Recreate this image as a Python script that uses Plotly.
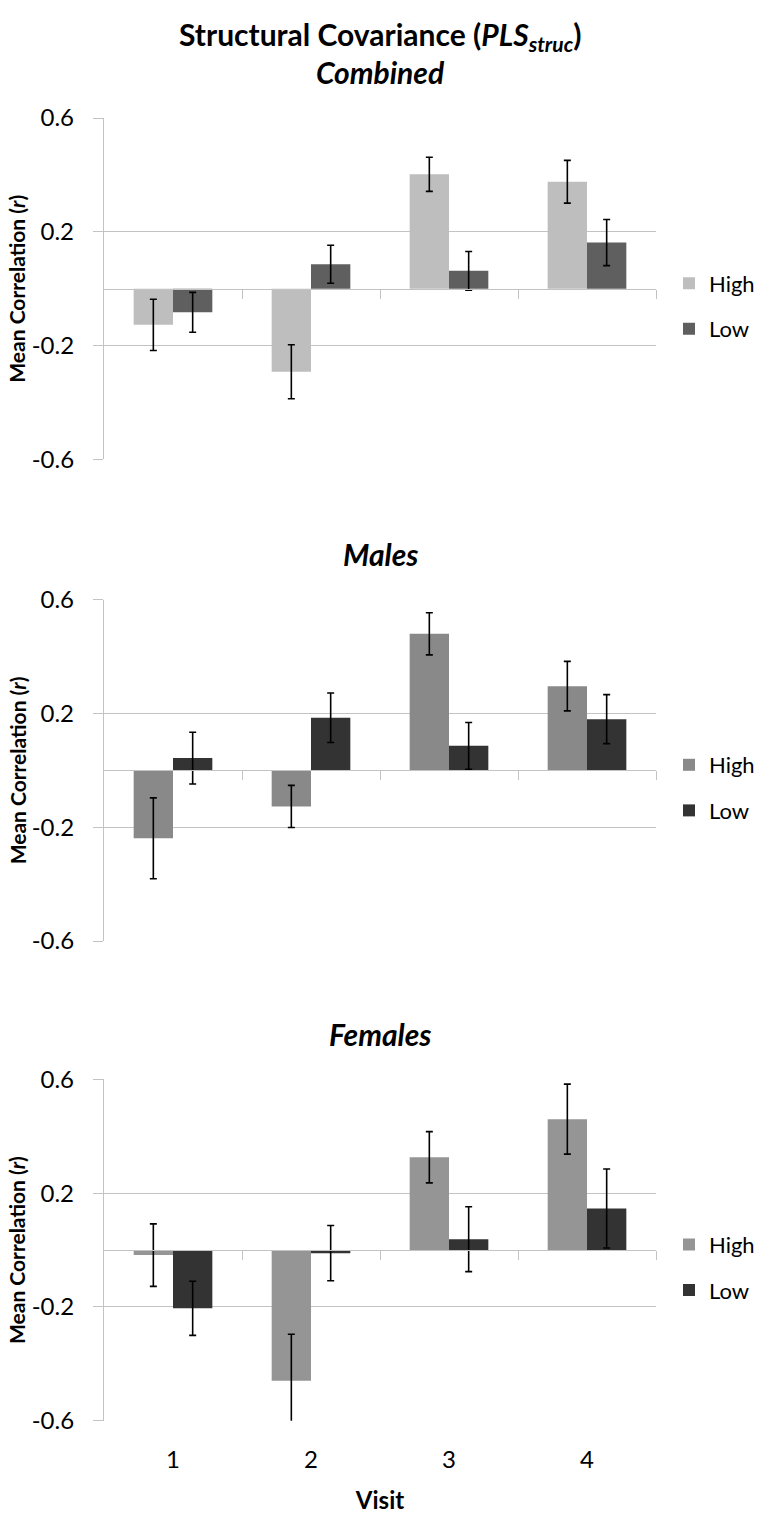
import plotly.graph_objects as go

# ---------------- data ----------------
visits = [1, 2, 3, 4]
visit_labels = ["1", "2", "3", "4"]
series_names = ["High", "Low"]
panel_titles = ["Combined", "Males", "Females"]

combined_high = [-0.127, -0.292, 0.402, 0.376]
combined_high_err = [0.090, 0.095, 0.060, 0.075]
combined_low = [-0.083, 0.086, 0.063, 0.162]
combined_low_err = [0.070, 0.067, 0.068, 0.081]

males_high = [-0.239, -0.127, 0.480, 0.296]
males_high_err = [0.142, 0.074, 0.074, 0.087]
males_low = [0.043, 0.185, 0.086, 0.180]
males_low_err = [0.091, 0.087, 0.082, 0.086]

females_high = [-0.018, -0.460, 0.326, 0.460]
females_high_err = [0.110, 0.164, 0.090, 0.123]
females_low = [-0.205, -0.011, 0.038, 0.146]
females_low_err = [0.095, 0.097, 0.114, 0.139]

y_ticks = [-0.6, -0.2, 0.2, 0.6]
y_tick_labels = ["-0.6", "-0.2", "0.2", "0.6"]

# ---------------- style ----------------
FONT = "Lato"
W, H = 760, 1520
GRID = "#c3c3c3"
panel_colors = [("#bebebe", "#5f5f5f"), ("#898989", "#333333"), ("#959595", "#333333")]
panel_px = [(104, 452), (595, 943), (1084, 1432)]  # top / bottom pixel of each plot
x_dom = [104 / W, 656 / W]

panels = [
    (combined_high, combined_high_err, combined_low, combined_low_err),
    (males_high, males_high_err, males_low, males_low_err),
    (females_high, females_high_err, females_low, females_low_err),
]

fig = go.Figure()

for i, (hi, hi_e, lo, lo_e) in enumerate(panels):
    n = i + 1
    xa = "x" if n == 1 else f"x{n}"
    ya = "y" if n == 1 else f"y{n}"
    leg = "legend" if n == 1 else f"legend{n}"
    c_hi, c_lo = panel_colors[i]
    for name, vals, errs, col in [(series_names[0], hi, hi_e, c_hi), (series_names[1], lo, lo_e, c_lo)]:
        fig.add_trace(go.Bar(
            x=visits, y=vals, name=name,
            marker=dict(color=col, line=dict(width=0)),
            error_y=dict(type="data", array=errs, visible=True, color="black", thickness=1.6, width=3.5),
            xaxis=xa, yaxis=ya, legend=leg, legendgroup=f"{name}{n}",
        ))
    # empty helper trace so the zero-line axis (with category boundary ticks) is drawn
    fig.add_trace(go.Scatter(
        x=visits, y=[None] * len(visits), mode="lines", showlegend=False,
        hoverinfo="skip", xaxis=f"x{3 + n}", yaxis=ya,
    ))

layout = dict(
    width=W, height=H,
    margin=dict(l=0, r=0, t=0, b=0),
    paper_bgcolor="white", plot_bgcolor="white",
    barmode="group", bargap=0.43, bargroupgap=0,
    font=dict(family=FONT, color="black", size=22),
    showlegend=True,
)

annotations = []
for i in range(3):
    n = i + 1
    top, bot = panel_px[i]
    y0 = 1 - bot / H
    y1 = 1 - top / H
    sfx = "" if n == 1 else str(n)
    layout[f"yaxis{sfx}"] = dict(
        domain=[y0, y1], range=[-0.6, 0.6], anchor=f"x{sfx}",
        tickvals=y_ticks, ticktext=y_tick_labels,
        showgrid=True, gridcolor=GRID, gridwidth=1.3,
        showline=True, linecolor=GRID, linewidth=1.3,
        ticks="outside", ticklen=10, tickcolor=GRID, tickwidth=1.3,
        zeroline=False, tickfont=dict(size=24, family=FONT),
        ticklabelstandoff=14,
    )
    layout[f"xaxis{sfx}"] = dict(
        domain=x_dom, range=[0.5, 4.5], anchor=f"y{sfx}",
        tickvals=visits, ticktext=visit_labels,
        showticklabels=(n == 3), ticks="", showline=False,
        showgrid=False, zeroline=False,
        tickfont=dict(size=24, family=FONT),
    )
    if n == 3:
        layout["xaxis3"]["title"] = dict(text="<b>Visit</b>", font=dict(size=24, family=FONT), standoff=20)
        layout["xaxis3"]["ticklabelstandoff"] = 22
    # zero line axis with category boundary ticks
    ov = 3 + n
    layout[f"xaxis{ov}"] = dict(
        domain=x_dom, range=[0.5, 4.5], overlaying=f"x{sfx}", anchor="free",
        position=(y0 + y1) / 2, side="bottom",
        tickvals=[v + 0.5 for v in visits], showticklabels=False,
        ticks="outside", ticklen=9, tickcolor=GRID, tickwidth=1.3,
        showline=True, linecolor=GRID, linewidth=1.3,
        showgrid=False, zeroline=False,
    )
    # legend
    leg = "legend" if n == 1 else f"legend{n}"
    layout[leg] = dict(
        x=669 / W, y=1 - ((top + bot) / 2 + 18) / H, xanchor="left", yanchor="middle",
        font=dict(size=22, family=FONT), tracegroupgap=14,
        bgcolor="rgba(0,0,0,0)", traceorder="grouped",
    )
    # y title
    annotations.append(dict(
        text="<b>Mean Correlation (<i>r</i>)</b>", textangle=-90,
        x=17 / W, y=(y0 + y1) / 2, xref="paper", yref="paper",
        xanchor="center", yanchor="middle", showarrow=False,
        font=dict(size=21, family=FONT),
    ))

# titles
annotations.append(dict(
    text="<b>Structural Covariance (<i>PLS</i><sub><i>struc</i></sub>)</b>",
    x=0.5, y=1 - 20 / H, xref="paper", yref="paper", xanchor="center", yanchor="middle",
    showarrow=False, font=dict(size=30, family=FONT),
))
subtitle_px = [57, 548, 1038]
for t, ypx in zip(panel_titles, subtitle_px):
    annotations.append(dict(
        text=f"<b><i>{t}</i></b>",
        x=0.5, y=1 - ypx / H, xref="paper", yref="paper", xanchor="center", yanchor="middle",
        showarrow=False, font=dict(size=30, family=FONT),
    ))

layout["annotations"] = annotations
fig.update_layout(**layout)

# remove the default 8px page margin so the figure fills the window exactly
fig.write_html(
    "out.html",
    config={"displayModeBar": False},
    post_script="document.body.style.margin='0px';",
)
